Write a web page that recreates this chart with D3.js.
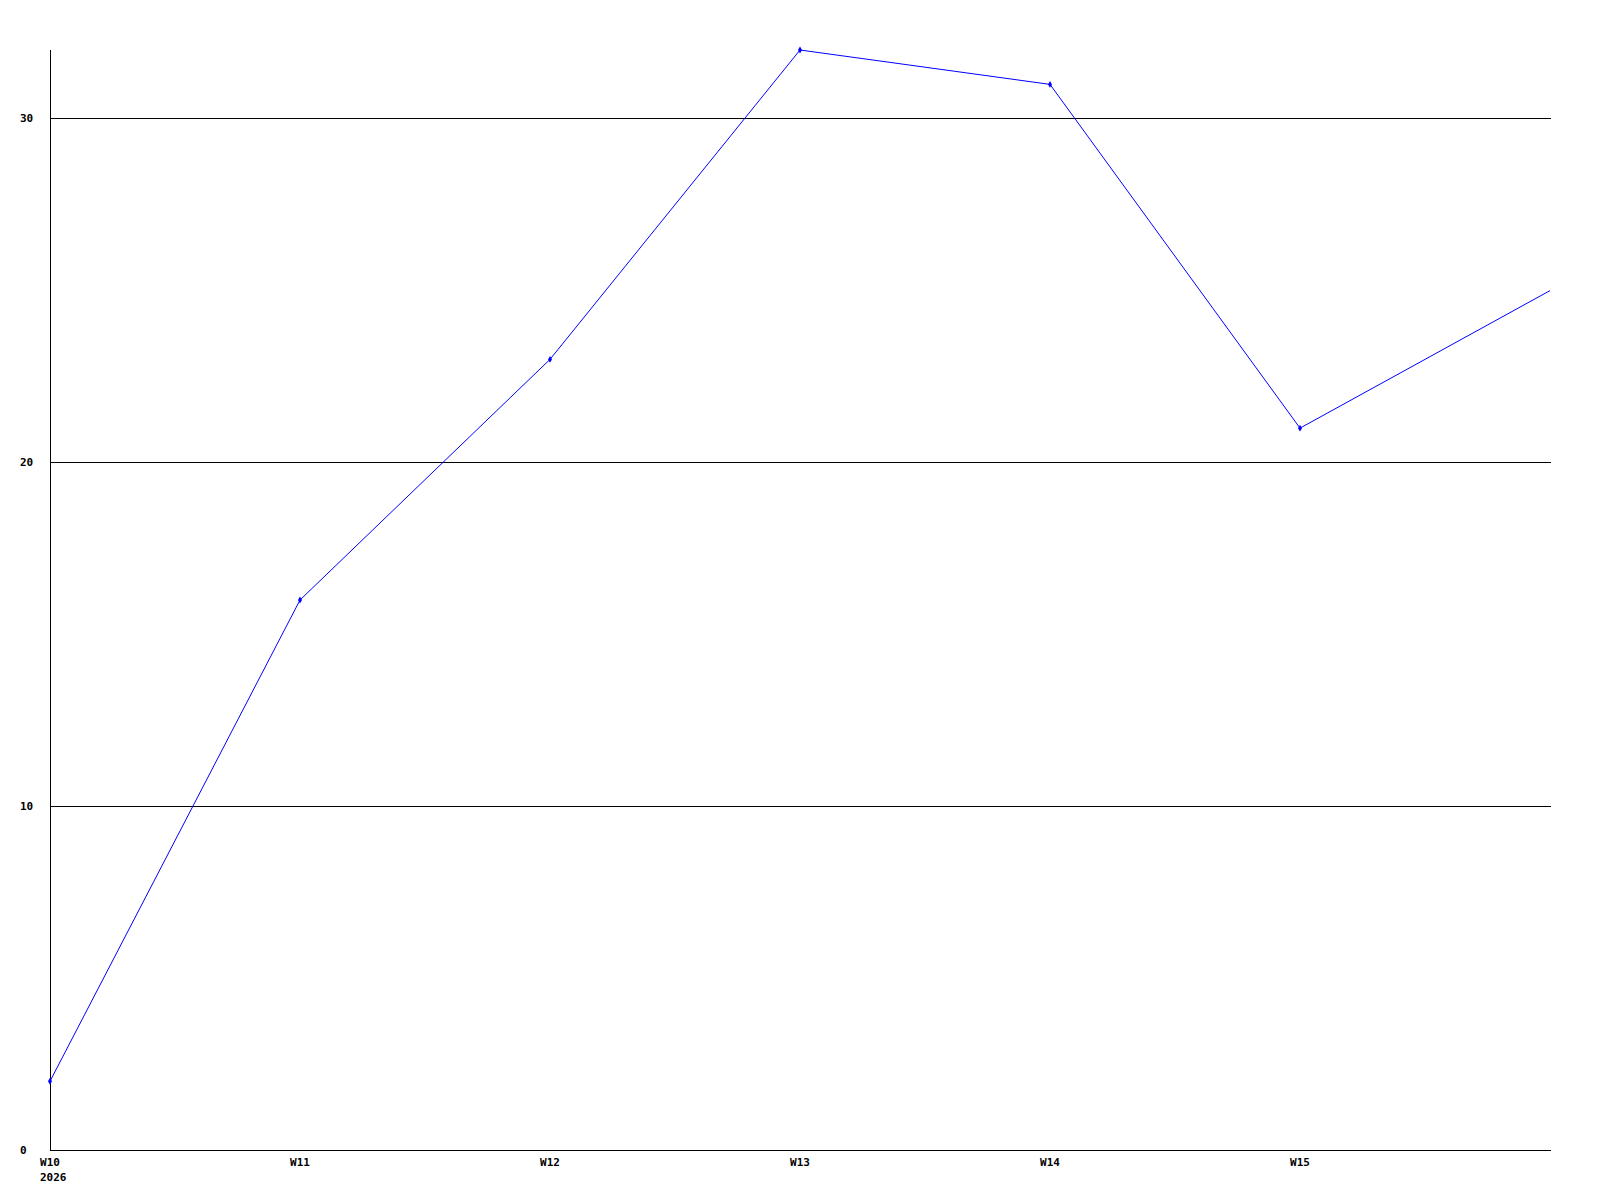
<!DOCTYPE html>
<html>
<head>
<meta charset="utf-8">
<script src="https://cdn.jsdelivr.net/npm/d3@7"></script>
<style>
  body { margin: 0; background: #fff; }
  text { font-family: "DejaVu Sans Mono", monospace; font-weight: bold; font-size: 11px; fill: #000; }
</style>
</head>
<body>
<div id="chart"></div>
<script>
// weekly values, last one is the running (partial) week
const weeks = [10, 11, 12, 13, 14, 15, 16];
const values = [2, 16, 23, 32, 31, 21, 25];
const tickWeeks = [10, 11, 12, 13, 14, 15];
const yTicks = [0, 10, 20, 30];
const yearLabel = '2026';

const W = 1600;
const H = 1200;
const margin = { t: 50, r: 50, b: 50, l: 50 };

const scaleX = d3.scaleLinear().domain([10, 16]).range([margin.l, W - margin.r]);
const scaleY = d3.scaleLinear().domain([0, 32]).range([H - margin.b, margin.t]);

const svg = d3.select('#chart')
  .append('svg')
  .attr('width', W)
  .attr('height', H);

// Gridlines
svg.append('g')
  .selectAll('line')
  .data(yTicks.filter(d => d > 0))
  .enter()
  .append('line')
  .attr('x1', scaleX(10))
  .attr('x2', scaleX(16) + 1)
  .attr('y1', d => Math.floor(scaleY(d)) + 0.5)
  .attr('y2', d => Math.floor(scaleY(d)) + 0.5)
  .attr('stroke', '#000')
  .attr('shape-rendering', 'crispEdges');

// Axes lines
svg.append('line')
  .attr('x1', scaleX(10) + 0.5).attr('x2', scaleX(10) + 0.5)
  .attr('y1', scaleY(32)).attr('y2', scaleY(0) + 1)
  .attr('stroke', '#000')
  .attr('shape-rendering', 'crispEdges');

svg.append('line')
  .attr('x1', scaleX(10)).attr('x2', scaleX(16) + 1)
  .attr('y1', scaleY(0) + 0.5).attr('y2', scaleY(0) + 0.5)
  .attr('stroke', '#000')
  .attr('shape-rendering', 'crispEdges');

// Y labels (left aligned)
svg.append('g')
  .selectAll('text')
  .data(yTicks)
  .enter()
  .append('text')
  .attr('x', 20)
  .attr('y', d => Math.floor(scaleY(d)))
  .attr('dy', '0.35em')
  .text(d => d);

// X labels
const xAxis = svg.append('g');
xAxis.selectAll('text.wk')
  .data(tickWeeks)
  .enter()
  .append('text')
  .attr('class', 'wk')
  .attr('x', d => scaleX(d))
  .attr('y', scaleY(0) + 16)
  .attr('text-anchor', 'middle')
  .text(d => `W${d}`);

xAxis.append('text')
  .attr('x', scaleX(10) - 10)
  .attr('y', scaleY(0) + 31)
  .text(yearLabel);

// Line
const data = weeks.map((w, i) => ({ w, v: values[i] }));
const line = d3.line()
  .x(d => scaleX(d.w))
  .y(d => scaleY(d.v));

svg.append('path')
  .datum(data)
  .attr('fill', 'none')
  .attr('stroke', '#0000ff')
  .attr('stroke-width', 1)
  .attr('d', line);

// Markers (not for the partial last week)
svg.append('g')
  .selectAll('path')
  .data(data.slice(0, -1))
  .enter()
  .append('path')
  .attr('transform', d => `translate(${scaleX(d.w)}, ${scaleY(d.v)})`)
  .attr('d', d3.symbol(d3.symbolDiamond, 14))
  .attr('fill', '#0000ff');
</script>
</body>
</html>
